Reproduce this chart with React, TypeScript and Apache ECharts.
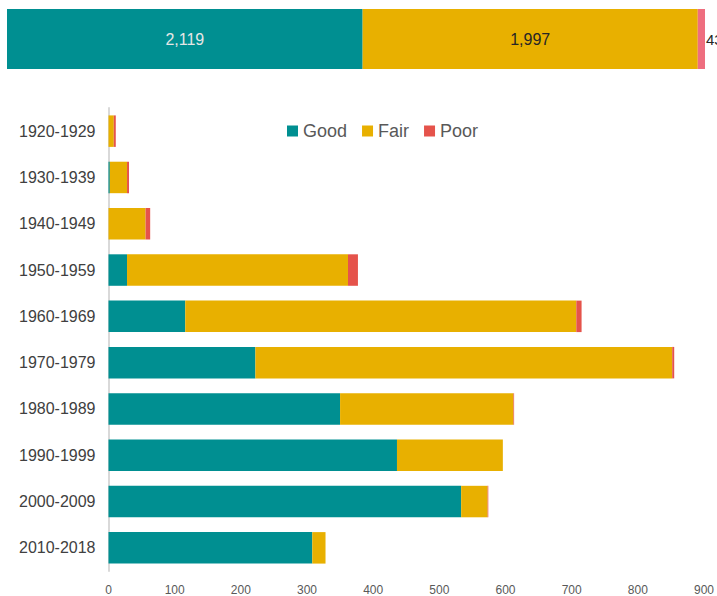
import React, { useEffect, useRef } from "react";
import * as echarts from "echarts";

const decades = ["1920-1929", "1930-1939", "1940-1949", "1950-1959", "1960-1969", "1970-1979", "1980-1989", "1990-1999", "2000-2009", "2010-2018"];
const goodValues = [0, 2, 0, 28, 116, 222, 350, 436, 533, 308];
const fairValues = [8, 26, 56, 334, 591, 630, 262, 160, 40, 20];
const poorValues = [3, 3, 7, 15, 8, 3, 1, 0, 1, 0];

const totalGood = 2119;
const totalFair = 1997;
const totalPoor = 43;

const TEAL = "#008F91";
const YELLOW = "#E8B000";
const RED = "#E5534B";
const PINK = "#EE6E7F";

export default function App() {
  const ref = useRef<HTMLDivElement>(null);
  useEffect(() => {
    if (!ref.current) return;
    const chart = echarts.init(ref.current, null, { renderer: "svg" });
    const fmt = (v: number) => v.toLocaleString("en-US");
    chart.setOption({
      animation: false,
      textStyle: { fontFamily: "Liberation Sans, Arial, sans-serif" },
      legend: {
        data: ["Good", "Fair", "Poor"],
        left: 282,
        top: 117,
        icon: "rect",
        itemWidth: 11,
        itemHeight: 11,
        itemGap: 15,
        textStyle: { fontSize: 18, color: "#595959", fontFamily: "Liberation Sans, Arial, sans-serif" },
      },
      grid: [
        { left: 7, top: 9, width: 698, height: 60 },
        { left: 108.5, top: 108, width: 596, height: 464 },
      ],
      xAxis: [
        { gridIndex: 0, type: "value", min: 0, max: totalGood + totalFair + totalPoor, show: false },
        {
          gridIndex: 1,
          type: "value",
          min: 0,
          max: 900,
          interval: 100,
          axisLine: { show: false },
          axisTick: { show: false },
          splitLine: { show: false },
          axisLabel: { fontSize: 12, color: "#595959", margin: 13 },
        },
      ],
      yAxis: [
        { gridIndex: 0, type: "category", data: ["All"], show: false },
        {
          gridIndex: 1,
          type: "category",
          data: decades,
          inverse: true,
          axisLine: { show: true, lineStyle: { color: "#D9D9D9", width: 2 } },
          axisTick: { show: false },
          axisLabel: { fontSize: 16, color: "#404040", margin: 13 },
        },
      ],
      series: [
        {
          name: "All Good",
          type: "bar",
          stack: "all",
          xAxisIndex: 0,
          yAxisIndex: 0,
          barWidth: "100%",
          data: [totalGood],
          itemStyle: { color: TEAL },
          label: { show: true, position: "inside", color: "#E6E6E6", fontSize: 16, formatter: (p: any) => fmt(p.value) },
        },
        {
          name: "All Fair",
          type: "bar",
          stack: "all",
          xAxisIndex: 0,
          yAxisIndex: 0,
          barWidth: "100%",
          data: [totalFair],
          itemStyle: { color: YELLOW },
          label: { show: true, position: "inside", color: "#262626", fontSize: 16, formatter: (p: any) => fmt(p.value) },
        },
        {
          name: "All Poor",
          type: "bar",
          stack: "all",
          xAxisIndex: 0,
          yAxisIndex: 0,
          barWidth: "100%",
          data: [totalPoor],
          itemStyle: { color: PINK },
          label: { show: true, position: "right", distance: 1, color: "#262626", fontSize: 15, formatter: (p: any) => fmt(p.value) },
        },
        {
          name: "Good",
          type: "bar",
          stack: "dec",
          xAxisIndex: 1,
          yAxisIndex: 1,
          barWidth: "68%",
          data: goodValues,
          itemStyle: { color: TEAL },
        },
        {
          name: "Fair",
          type: "bar",
          stack: "dec",
          xAxisIndex: 1,
          yAxisIndex: 1,
          barWidth: "68%",
          data: fairValues,
          itemStyle: { color: YELLOW },
        },
        {
          name: "Poor",
          type: "bar",
          stack: "dec",
          xAxisIndex: 1,
          yAxisIndex: 1,
          barWidth: "68%",
          data: poorValues,
          itemStyle: { color: RED },
        },
      ],
    });
    return () => chart.dispose();
  }, []);
  return (
    <div
      ref={ref}
      style={{ position: "fixed", left: 0, top: 0, width: 717, height: 596, background: "#fff" }}
    />
  );
}
